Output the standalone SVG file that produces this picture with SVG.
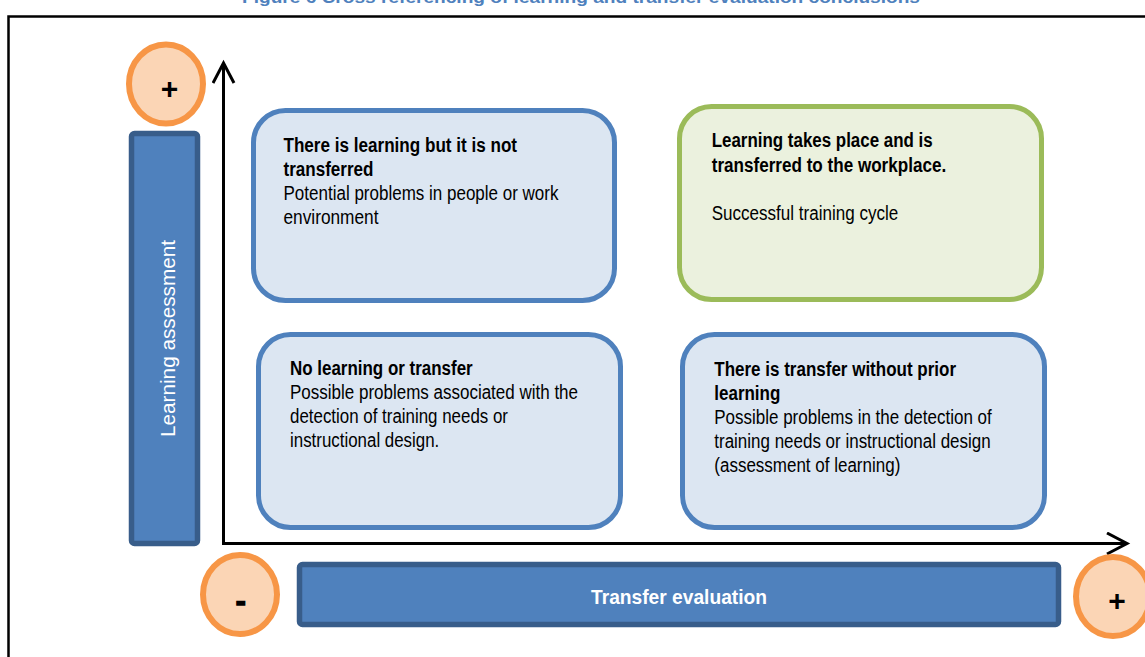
<svg xmlns="http://www.w3.org/2000/svg" width="1145" height="657" viewBox="0 0 1145 657">
<style>
  .t { font-family: "Liberation Sans Narrow", "Liberation Sans", Arial, sans-serif; font-size: 20px; fill: #000; }
  .b { font-weight: bold; }
  .box { stroke-width: 5; }
  .blue { fill: #dce6f2; stroke: #4f81bd; }
  .green { fill: #ebf1de; stroke: #9bbb59; }
  .bar { fill: #4f81bd; stroke: #385d8a; stroke-width: 5.5; }
  .circ { fill: #fbd5b5; stroke: #f79646; stroke-width: 6; }
  .sign { font-family: "Liberation Sans", Arial, sans-serif; font-weight: bold; font-size: 30px; fill: #000; text-anchor: middle; }
  .lbl { font-family: "Liberation Sans Narrow", "Liberation Sans", Arial, sans-serif; font-size: 21px; fill: #fff; text-anchor: middle; }
  .axis { fill: none; stroke: #000; stroke-width: 3; }
</style>
<defs>
  <marker id="chev" markerUnits="userSpaceOnUse" markerWidth="26" markerHeight="26" refX="22" refY="12" orient="auto">
    <path d="M2,1.5 L22,12 L2,22.5" fill="none" stroke="#000" stroke-width="3"/>
  </marker>
</defs>
<rect width="1145" height="657" fill="#fff"/>
<text id="title" x="581" y="3" font-family="Liberation Sans, Arial, sans-serif" font-weight="bold" font-size="17" fill="#4f81bd" text-anchor="middle" textLength="678" lengthAdjust="spacingAndGlyphs">Figure 6 Cross referencing of learning and transfer evaluation conclusions</text>
<rect id="frame" x="8.5" y="16.5" width="1160" height="660" fill="none" stroke="#000" stroke-width="2.5"/>

<g id="connectors">
  <path class="axis" d="M223.5,545 L223.5,63" marker-end="url(#chev)"/>
  <path class="axis" d="M222,543.5 L1127,543.5" marker-end="url(#chev)"/>
</g>

<g id="learning-assessment">
  <rect class="bar" x="131.5" y="133.5" width="66" height="410" rx="3"/>
  <text class="lbl" transform="translate(175,338.5) rotate(-90)" textLength="197" lengthAdjust="spacingAndGlyphs">Learning assessment</text>
</g>

<g id="transfer-evaluation">
  <rect class="bar" x="299.5" y="564.5" width="759" height="60" rx="3"/>
  <text class="lbl b" x="679" y="603.5" font-weight="bold" textLength="176" lengthAdjust="spacingAndGlyphs">Transfer evaluation</text>
</g>

<g id="plus-learning">
  <ellipse class="circ" cx="166" cy="84" rx="37" ry="39.5"/>
  <text class="sign" x="169.5" y="99">+</text>
</g>
<g id="minus">
  <ellipse class="circ" cx="240" cy="594.5" rx="37" ry="39.5"/>
  <text class="sign" x="240.8" y="611" stroke="#000" stroke-width="1.5">-</text>
</g>
<g id="plus-transfer">
  <ellipse class="circ" cx="1113" cy="596.5" rx="37" ry="39.5"/>
  <text class="sign" x="1117" y="611">+</text>
</g>

<g id="box-learning-no-transfer">
  <rect class="box blue" x="253.5" y="110.5" width="361" height="190" rx="32"/>
  <text class="t b" x="283.5" y="152" textLength="233.5" lengthAdjust="spacingAndGlyphs">There is learning but it is not</text>
  <text class="t b" x="283.5" y="176" textLength="90" lengthAdjust="spacingAndGlyphs">transferred</text>
  <text class="t" x="283.5" y="200" textLength="275" lengthAdjust="spacingAndGlyphs">Potential problems in people or work</text>
  <text class="t" x="283.5" y="223.5" textLength="95" lengthAdjust="spacingAndGlyphs">environment</text>
</g>

<g id="box-success">
  <rect class="box green" x="679.5" y="106.5" width="362" height="193" rx="32"/>
  <text class="t b" x="711.7" y="147" textLength="221" lengthAdjust="spacingAndGlyphs">Learning takes place and is</text>
  <text class="t b" x="711.7" y="171.5" textLength="234.5" lengthAdjust="spacingAndGlyphs">transferred to the workplace.</text>
  <text class="t" x="711.7" y="219.5" textLength="186.5" lengthAdjust="spacingAndGlyphs">Successful training cycle</text>
</g>

<g id="box-no-learning">
  <rect class="box blue" x="258.5" y="334.5" width="362" height="193" rx="32"/>
  <text class="t b" x="290" y="375" textLength="182.7" lengthAdjust="spacingAndGlyphs">No learning or transfer</text>
  <text class="t" x="290" y="399" textLength="288" lengthAdjust="spacingAndGlyphs">Possible problems associated with the</text>
  <text class="t" x="290" y="423.3" textLength="218" lengthAdjust="spacingAndGlyphs">detection of training needs or</text>
  <text class="t" x="290" y="447.3" textLength="149.3" lengthAdjust="spacingAndGlyphs">instructional design.</text>
</g>

<g id="box-transfer-no-learning">
  <rect class="box blue" x="682.5" y="334.5" width="362" height="193" rx="32"/>
  <text class="t b" x="714.3" y="375.5" textLength="241.7" lengthAdjust="spacingAndGlyphs">There is transfer without prior</text>
  <text class="t b" x="714.3" y="399.5" textLength="66" lengthAdjust="spacingAndGlyphs">learning</text>
  <text class="t" x="714.3" y="423.5" textLength="277.4" lengthAdjust="spacingAndGlyphs">Possible problems in the detection of</text>
  <text class="t" x="714.3" y="447.5" textLength="276.4" lengthAdjust="spacingAndGlyphs">training needs or instructional design</text>
  <text class="t" x="714.3" y="471.5" textLength="186" lengthAdjust="spacingAndGlyphs">(assessment of learning)</text>
</g>
</svg>
